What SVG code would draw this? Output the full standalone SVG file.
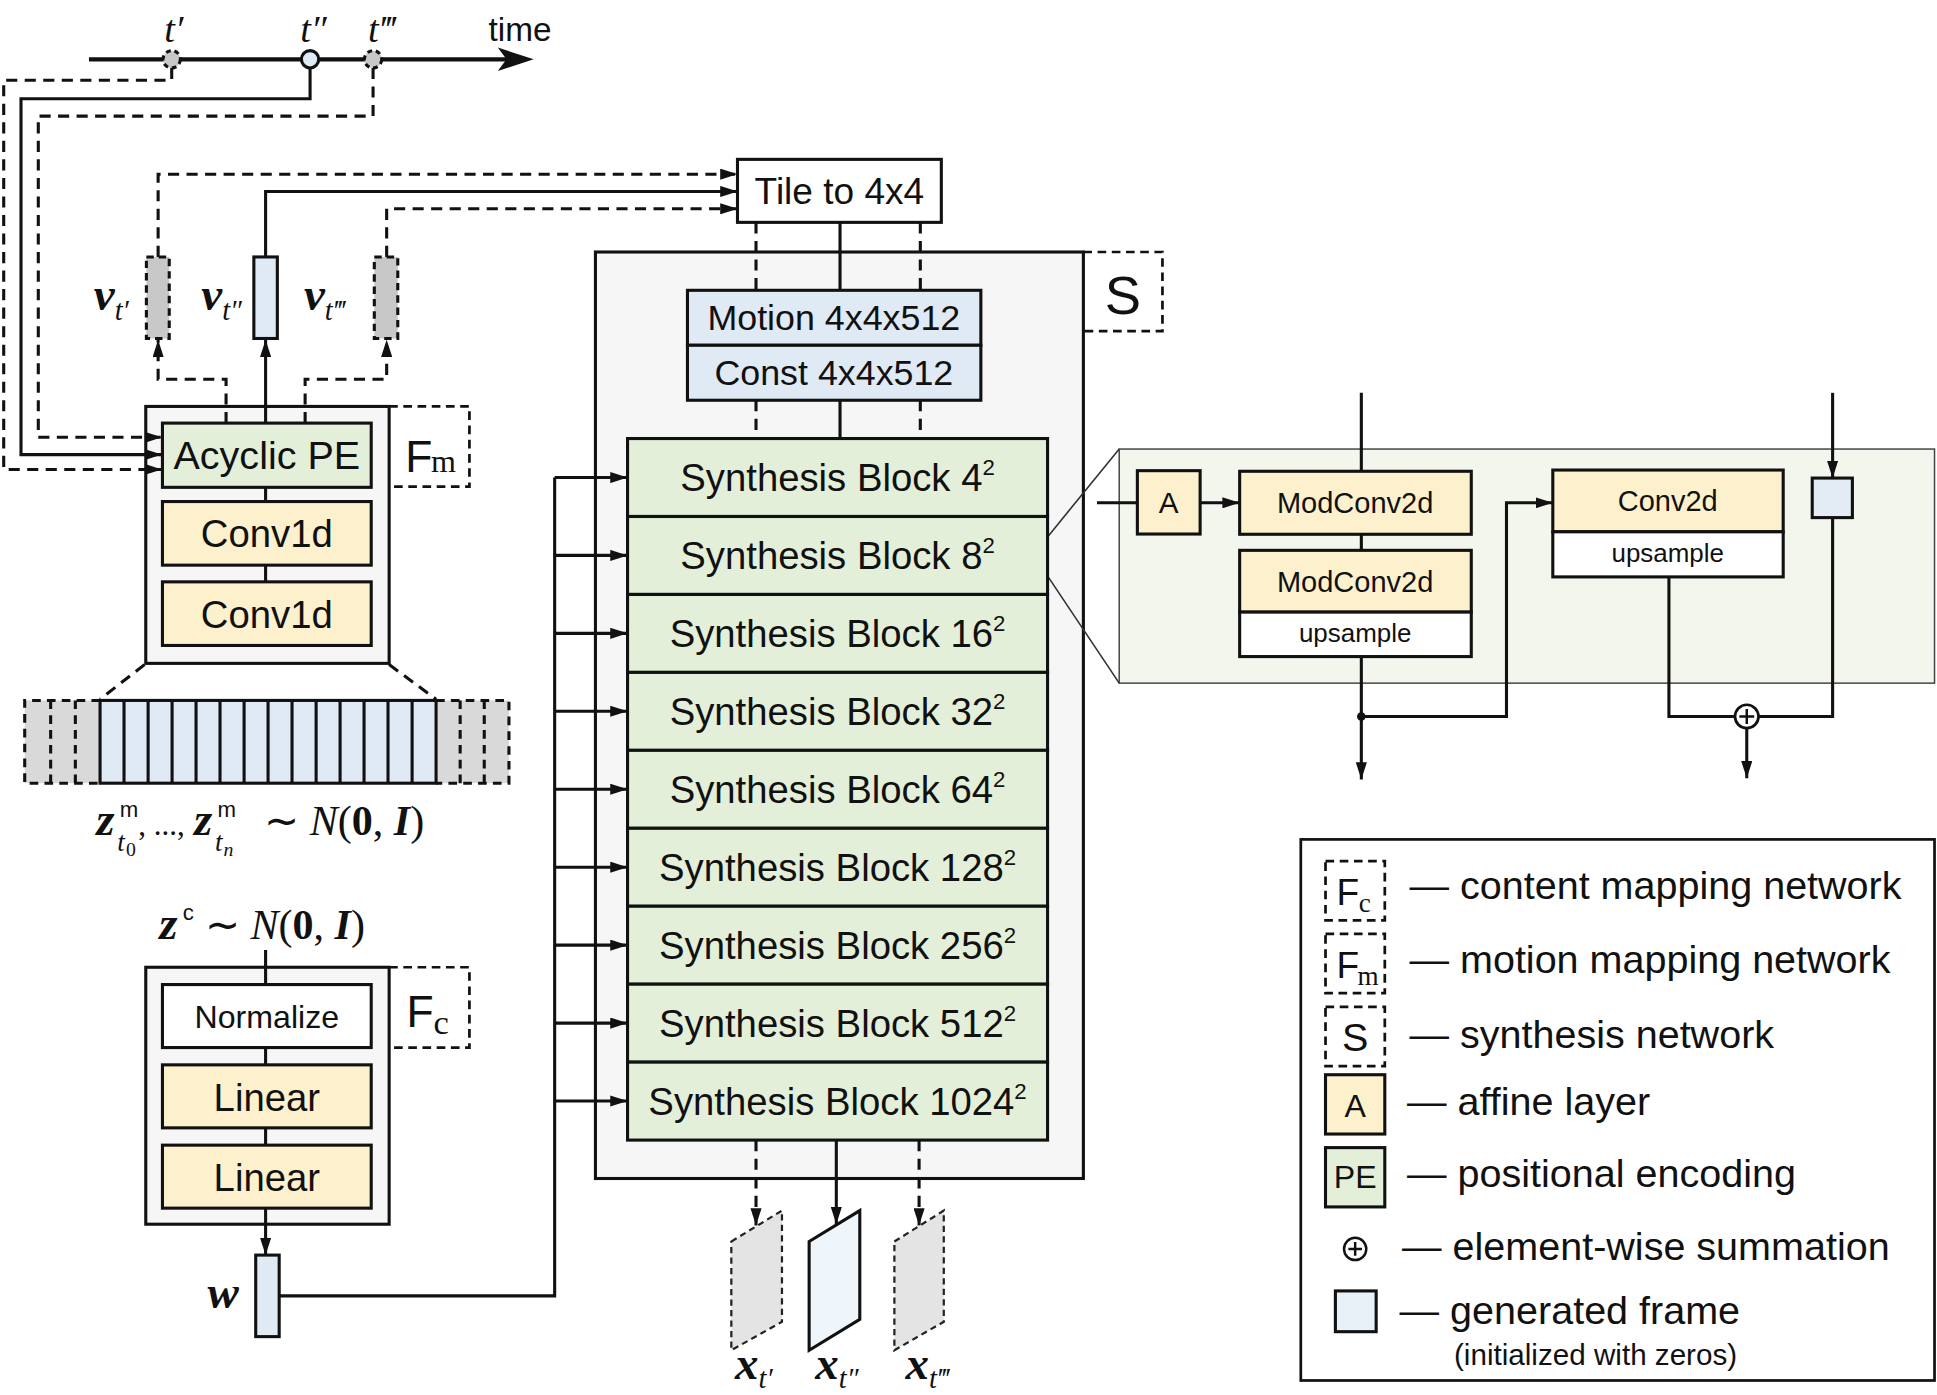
<svg xmlns="http://www.w3.org/2000/svg" width="1937" height="1395" viewBox="0 0 1937 1395">
<defs>
<style>
.ln{fill:none;stroke:#111;stroke-width:2.5}
.thin{fill:none;stroke:#333;stroke-width:1.3}
.da{stroke-dasharray:9 6}
.bx{stroke:#111;stroke-width:2.5}
.lbl{fill:none;stroke:#111;stroke-width:2.2;stroke-dasharray:7 4.5}
.gr{fill:#e3efd9}.ye{fill:#fdf1cd}.bl{fill:#dfeaf5}.wh{fill:#fff}.co{fill:#f6f6f6}
.sans{font-family:"Liberation Sans",Arial,sans-serif;fill:#111}
.ser{font-family:"Liberation Serif","Times New Roman",serif;fill:#111}
.c{text-anchor:middle}
.bi{font-weight:bold;font-style:italic}
.it{font-style:italic}
</style>
<marker id="ah" viewBox="0 0 14 9" refX="14" refY="4.5" markerWidth="14" markerHeight="9" orient="auto" markerUnits="userSpaceOnUse"><path d="M0,0L14,4.5L0,9z" fill="#111"/></marker>
</defs>
<rect width="1937" height="1395" fill="#fff"/>
<g transform="scale(1.23533)">

<!-- containers -->
<g id="fm-network">
<rect class="bx co" x="118" y="329" width="197" height="208"/>
<path class="lbl" d="M315,329H380V394H315"/>
<text class="sans" x="328" y="382" font-size="36">F</text>
<text class="ser" x="349" y="382" font-size="26">m</text>
</g>
<g id="fc-network">
<rect class="bx co" x="118" y="783" width="197" height="208"/>
<path class="lbl" d="M315,783H380V848H315"/>
<text class="sans" x="329" y="831" font-size="36">F</text>
<text class="ser" x="351" y="837" font-size="28">c</text>
</g>
<g id="s-network">
<rect class="bx co" x="482" y="204" width="395" height="750"/>
<path class="lbl" d="M877,204H941V268H877"/>
<text class="sans c" x="909" y="254" font-size="44">S</text>
</g>
<g id="detail-panel">
<rect x="906" y="363.5" width="660" height="189.5" fill="#f3f6ec" stroke="#444" stroke-width="1.2"/>
</g>

<!-- connectors -->
<g id="connectors">
<path class="ln da" d="M139,55V65H3V380H131" marker-end="url(#ah)"/>
<path class="ln" d="M251,55V80H17V368H131" marker-end="url(#ah)"/>
<path class="ln da" d="M302,55V94H31V354H131" marker-end="url(#ah)"/>
<path class="ln da" d="M183,342.5V307H128V275" marker-end="url(#ah)"/>
<path class="ln" d="M215,342.5V275" marker-end="url(#ah)"/>
<path class="ln da" d="M247,342.5V307H313V275" marker-end="url(#ah)"/>
<path class="ln da" d="M128,208V141H597" marker-end="url(#ah)"/>
<path class="ln" d="M215,208V155H597" marker-end="url(#ah)"/>
<path class="ln da" d="M313,208V169H597" marker-end="url(#ah)"/>
<path class="ln da" d="M612,180V235M745,180V235M612,324V355M745,324V355"/>
<path class="ln" d="M680,180V235M680,324V355"/>
<path class="ln da" d="M612,923V992" marker-end="url(#ah)"/>
<path class="ln" d="M677,923V991" marker-end="url(#ah)"/>
<path class="ln da" d="M744,923V992" marker-end="url(#ah)"/>
<path class="ln" d="M215,394.5V406M215,457.5V471"/>
<path class="ln da" d="M117,538L81,566M315,538L353,566"/>
<path class="ln" d="M215,769V797M215,848V862M215,913V927"/>
<path class="ln" d="M215,978V1016" marker-end="url(#ah)"/>
<path class="ln" d="M226,1049H449V386.6"/>
<path class="ln" d="M449,386.6H508" marker-end="url(#ah)"/>
<path class="ln" d="M449,449.6H508" marker-end="url(#ah)"/>
<path class="ln" d="M449,512.7H508" marker-end="url(#ah)"/>
<path class="ln" d="M449,575.8H508" marker-end="url(#ah)"/>
<path class="ln" d="M449,638.9H508" marker-end="url(#ah)"/>
<path class="ln" d="M449,702H508" marker-end="url(#ah)"/>
<path class="ln" d="M449,765.1H508" marker-end="url(#ah)"/>
<path class="ln" d="M449,828.2H508" marker-end="url(#ah)"/>
<path class="ln" d="M449,891.3H508" marker-end="url(#ah)"/>
<path class="thin" d="M848.5,434L906,363.5M848.5,467L906,553"/>
<path class="ln" d="M888,407H920.7"/>
<path class="ln" d="M971.5,407H1003.5" marker-end="url(#ah)"/>
<path class="ln" d="M1102,318V381.5M1102,432.5V445.5"/>
<path class="ln" d="M1102,531.5V631" marker-end="url(#ah)"/>
<path class="ln" d="M1102,580H1219.5V407H1257" marker-end="url(#ah)"/>
<path class="ln" d="M1483.5,318V387" marker-end="url(#ah)"/>
<path class="ln" d="M1483.5,419V580H1423.5M1351,467V580H1404.5"/>
<path class="ln" d="M1414,589.5V630" marker-end="url(#ah)"/>
<circle cx="1102" cy="580" r="3.5" fill="#111"/>
</g>

<!-- timeline -->
<g id="timeline">
<line x1="72" y1="48" x2="412" y2="48" stroke="#111" stroke-width="3.5"/>
<path d="M432,48L403,38.5L410,48L403,57.5Z" fill="#111"/>
<circle cx="139" cy="48" r="7" fill="#c8c8c8" stroke="#111" stroke-width="2.5" stroke-dasharray="4 3"/>
<circle cx="251" cy="48" r="7" fill="#dfeaf5" stroke="#111" stroke-width="2.5"/>
<circle cx="302" cy="48" r="7" fill="#c8c8c8" stroke="#111" stroke-width="2.5" stroke-dasharray="4 3"/>
<text class="ser it" x="133" y="34" font-size="31">t′</text>
<text class="ser it" x="243" y="34" font-size="31">t″</text>
<text class="ser it" x="298" y="34" font-size="31">t‴</text>
<text class="sans c" x="421" y="33" font-size="27">time</text>
</g>

<!-- motion vectors -->
<g id="v-t1">
<rect x="118.5" y="208" width="18.5" height="66" fill="#c8c8c8" stroke="#111" stroke-width="2.5" stroke-dasharray="6 4"/>
<text class="ser" x="76" y="251"><tspan class="bi" font-size="38">v</tspan><tspan class="it" font-size="23" dy="8">t′</tspan></text>
</g>
<g id="v-t2">
<rect class="bx bl" x="205.5" y="208" width="19" height="66"/>
<text class="ser" x="163" y="251"><tspan class="bi" font-size="38">v</tspan><tspan class="it" font-size="23" dy="8">t″</tspan></text>
</g>
<g id="v-t3">
<rect x="303" y="208" width="19" height="66" fill="#c8c8c8" stroke="#111" stroke-width="2.5" stroke-dasharray="6 4"/>
<text class="ser" x="246" y="251"><tspan class="bi" font-size="38">v</tspan><tspan class="it" font-size="23" dy="8">t‴</tspan></text>
</g>

<!-- Fm boxes -->
<g id="acyclic-pe"><rect class="bx gr" x="131.5" y="342.5" width="169" height="52"/><text class="sans c" x="216" y="380" font-size="32">Acyclic PE</text></g>
<g id="conv1d-1"><rect class="bx ye" x="131.5" y="406" width="169" height="51.5"/><text class="sans c" x="216" y="443" font-size="31">Conv1d</text></g>
<g id="conv1d-2"><rect class="bx ye" x="131.5" y="471" width="169" height="51.5"/><text class="sans c" x="216" y="508" font-size="31">Conv1d</text></g>

<!-- latent strip -->
<g id="motion-latents">
<rect x="20" y="567" width="61" height="67" fill="#d9d9d9"/>
<rect x="353" y="567" width="59" height="67" fill="#d9d9d9"/>
<path class="ln" stroke-dasharray="7 5" d="M81,567H20V634H81M41,567V634M61,567V634M353,567H412V634H353M372.5,567V634M392,567V634"/>
<rect class="bx bl" x="81" y="567" width="272" height="67"/>
<path class="ln" d="M100.4,567V634M119.9,567V634M139.3,567V634M158.7,567V634M178.1,567V634M197.6,567V634M217,567V634M236.4,567V634M255.9,567V634M275.3,567V634M294.7,567V634M314.1,567V634M333.6,567V634"/>
<text class="ser" font-size="34"><tspan class="bi" font-size="38" x="78" y="676">z</tspan><tspan class="sans" font-size="18" x="97" y="661">m</tspan><tspan class="it" font-size="22" x="95" y="689">t</tspan><tspan font-size="16" x="102" y="693">0</tspan><tspan font-size="25" x="112" y="676">, ..., </tspan><tspan class="bi" font-size="38" x="157" y="676">z</tspan><tspan class="sans" font-size="18" x="176" y="661">m</tspan><tspan class="it" font-size="22" x="174" y="689">t</tspan><tspan class="it" font-size="16" x="181" y="693">n</tspan><tspan x="214" y="676">∼ <tspan class="it">N</tspan>(<tspan font-weight="bold">0</tspan>, <tspan class="bi">I</tspan>)</tspan></text>
</g>

<!-- Fc boxes -->
<g id="zc-label">
<text class="ser" font-size="34"><tspan class="bi" font-size="38" x="129" y="760">z</tspan><tspan class="sans" font-size="18" x="148" y="745">c</tspan><tspan x="166" y="760">∼ <tspan class="it">N</tspan>(<tspan font-weight="bold">0</tspan>, <tspan class="bi">I</tspan>)</tspan></text>
</g>
<g id="normalize"><rect class="bx wh" x="131.5" y="797" width="169" height="51"/><text class="sans c" x="216" y="832" font-size="26">Normalize</text></g>
<g id="linear-1"><rect class="bx ye" x="131.5" y="862" width="169" height="51"/><text class="sans c" x="216" y="899" font-size="31">Linear</text></g>
<g id="linear-2"><rect class="bx ye" x="131.5" y="927" width="169" height="51"/><text class="sans c" x="216" y="964" font-size="31">Linear</text></g>
<g id="w"><rect class="bx bl" x="207" y="1016" width="19" height="66"/><text class="ser bi" x="168" y="1059" font-size="38">w</text></g>

<!-- synthesis network -->
<g id="tile"><rect class="bx wh" x="597" y="129" width="165" height="51"/><text class="sans c" x="679.5" y="165.5" font-size="30">Tile to 4x4</text></g>
<g id="motion"><rect class="bx bl" x="556.5" y="235" width="237.5" height="44.5"/><text class="sans c" x="675" y="267.5" font-size="29">Motion 4x4x512</text></g>
<g id="const"><rect class="bx bl" x="556.5" y="279.5" width="237.5" height="44.5"/><text class="sans c" x="675" y="312" font-size="29">Const 4x4x512</text></g>
<g id="sb4"><rect class="bx gr" x="508" y="355" width="340" height="63.1"/><text class="sans c" x="678" y="397.5" font-size="31">Synthesis Block 4<tspan font-size="18" dy="-13">2</tspan></text></g>
<g id="sb8"><rect class="bx gr" x="508" y="418.1" width="340" height="63.1"/><text class="sans c" x="678" y="460.6" font-size="31">Synthesis Block 8<tspan font-size="18" dy="-13">2</tspan></text></g>
<g id="sb16"><rect class="bx gr" x="508" y="481.2" width="340" height="63.1"/><text class="sans c" x="678" y="523.7" font-size="31">Synthesis Block 16<tspan font-size="18" dy="-13">2</tspan></text></g>
<g id="sb32"><rect class="bx gr" x="508" y="544.3" width="340" height="63.1"/><text class="sans c" x="678" y="586.8" font-size="31">Synthesis Block 32<tspan font-size="18" dy="-13">2</tspan></text></g>
<g id="sb64"><rect class="bx gr" x="508" y="607.4" width="340" height="63.1"/><text class="sans c" x="678" y="649.9" font-size="31">Synthesis Block 64<tspan font-size="18" dy="-13">2</tspan></text></g>
<g id="sb128"><rect class="bx gr" x="508" y="670.5" width="340" height="63.1"/><text class="sans c" x="678" y="713" font-size="31">Synthesis Block 128<tspan font-size="18" dy="-13">2</tspan></text></g>
<g id="sb256"><rect class="bx gr" x="508" y="733.6" width="340" height="63.1"/><text class="sans c" x="678" y="776.1" font-size="31">Synthesis Block 256<tspan font-size="18" dy="-13">2</tspan></text></g>
<g id="sb512"><rect class="bx gr" x="508" y="796.7" width="340" height="63.1"/><text class="sans c" x="678" y="839.2" font-size="31">Synthesis Block 512<tspan font-size="18" dy="-13">2</tspan></text></g>
<g id="sb1024"><rect class="bx gr" x="508" y="859.8" width="340" height="63.1"/><text class="sans c" x="678" y="902.3" font-size="31">Synthesis Block 1024<tspan font-size="18" dy="-13">2</tspan></text></g>

<!-- output frames -->
<g id="x-t1"><polygon points="592,1005 633,980 633,1070 592,1093" fill="#e4e4e4" stroke="#222" stroke-width="1.8" stroke-dasharray="5 3.5"/><text class="ser" x="595" y="1116"><tspan class="bi" font-size="38">x</tspan><tspan class="it" font-size="23" dy="8">t′</tspan></text></g>
<g id="x-t2"><polygon points="655,1005 696,980 696,1068 655,1093" fill="#eef6fc" stroke="#111" stroke-width="2.5"/><text class="ser" x="660" y="1116"><tspan class="bi" font-size="38">x</tspan><tspan class="it" font-size="23" dy="8">t″</tspan></text></g>
<g id="x-t3"><polygon points="724,1005 764,980 764,1070 724,1093" fill="#e4e4e4" stroke="#222" stroke-width="1.8" stroke-dasharray="5 3.5"/><text class="ser" x="733" y="1116"><tspan class="bi" font-size="38">x</tspan><tspan class="it" font-size="23" dy="8">t‴</tspan></text></g>

<!-- detail panel nodes -->
<g id="affine"><rect class="bx ye" x="920.7" y="381" width="50.8" height="51.3"/><text class="sans c" x="946" y="415" font-size="24">A</text></g>
<g id="modconv-1"><rect class="bx ye" x="1003.5" y="381.5" width="187.5" height="51"/><text class="sans c" x="1097" y="415" font-size="23.5">ModConv2d</text></g>
<g id="modconv-2"><rect class="bx ye" x="1003.5" y="445.5" width="187.5" height="50"/><rect class="bx wh" x="1003.5" y="495.5" width="187.5" height="36"/><text class="sans c" x="1097" y="479" font-size="23.5">ModConv2d</text><text class="sans c" x="1097" y="520" font-size="21">upsample</text></g>
<g id="conv2d"><rect class="bx ye" x="1257" y="380.5" width="186.5" height="50"/><rect class="bx wh" x="1257" y="430.5" width="186.5" height="36.5"/><text class="sans c" x="1350" y="414" font-size="23.5">Conv2d</text><text class="sans c" x="1350" y="455" font-size="21">upsample</text></g>
<g id="frame-in"><rect class="bx" fill="#e3ecf4" x="1467" y="387" width="32.5" height="32"/></g>
<g id="sum"><circle cx="1414" cy="580" r="9.5" fill="#fff" stroke="#111" stroke-width="2.2"/><path d="M1414,574V586M1408,580H1420" stroke="#111" stroke-width="2"/></g>

<!-- legend -->
<g id="legend">
<rect x="1053" y="679.5" width="513" height="438" fill="#fff" stroke="#111" stroke-width="2.2"/>
<rect class="lbl" x="1073" y="697" width="48" height="48"/>
<text class="sans" x="1082" y="733" font-size="30">F</text><text class="ser" x="1100" y="738" font-size="22">c</text>
<text class="sans" x="1141" y="728" font-size="32">— content mapping network</text>
<rect class="lbl" x="1073" y="756" width="48" height="48"/>
<text class="sans" x="1082" y="792" font-size="30">F</text><text class="ser" x="1099" y="797" font-size="22">m</text>
<text class="sans" x="1141" y="788" font-size="32">— motion mapping network</text>
<rect class="lbl" x="1073" y="815" width="48" height="48"/>
<text class="sans c" x="1097" y="851" font-size="32">S</text>
<text class="sans" x="1141" y="848" font-size="32">— synthesis network</text>
<rect class="bx ye" x="1073" y="870" width="48" height="48"/>
<text class="sans c" x="1097" y="904" font-size="26">A</text>
<text class="sans" x="1139" y="903" font-size="32">— affine layer</text>
<rect class="bx gr" x="1073" y="929" width="48" height="48"/>
<text class="sans c" x="1097" y="962" font-size="26">PE</text>
<text class="sans" x="1139" y="961" font-size="32">— positional encoding</text>
<circle cx="1097" cy="1011" r="9" fill="#fff" stroke="#111" stroke-width="2"/><path d="M1097,1005.5V1016.5M1091.5,1011H1102.5" stroke="#111" stroke-width="2"/>
<text class="sans" x="1135" y="1020" font-size="32">— element-wise summation</text>
<rect class="bx" fill="#e8f0f8" x="1081" y="1045" width="33" height="33"/>
<text class="sans" x="1133" y="1072" font-size="32">— generated frame</text>
<text class="sans" x="1177" y="1105" font-size="24">(initialized with zeros)</text>
</g>

</g>
</svg>
